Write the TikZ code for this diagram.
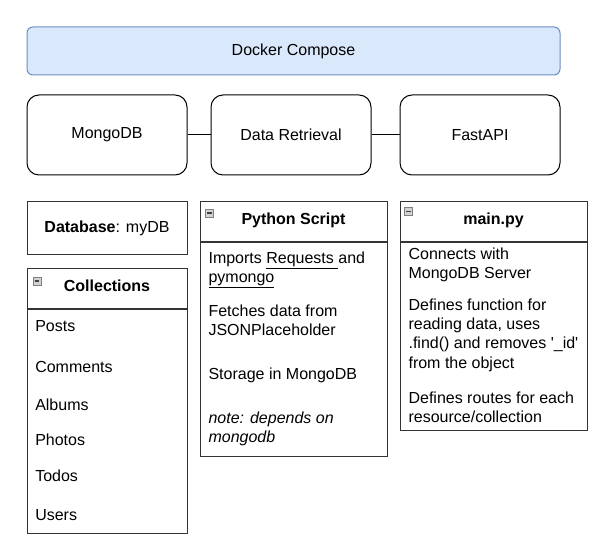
\documentclass[tikz,border=0pt]{standalone}
\usepackage{fontspec}
\setmainfont{Liberation Sans}
\usepackage{xcolor}
\usetikzlibrary{positioning}
\usetikzlibrary{calc}
\definecolor{composefill}{HTML}{DAE8FC}
\definecolor{composeline}{HTML}{6C8EBF}

\begin{document}
\begin{tikzpicture}[x=0.75pt,y=-0.75pt,
                every node/.style={font=\fontsize{12}{14.4}\selectfont},
                compose/.style={draw=composeline,fill=composefill,rounded corners=4.5pt,line width=0.75pt,
                                minimum width=399.75pt,minimum height=36pt},
                service/.style={draw,rounded corners=9pt,line width=0.75pt,minimum width=120pt,minimum height=60pt},
                panel/.style={draw=black!80,line width=0.75pt,inner sep=0pt},
                title/.style={anchor=base,inner sep=0pt,font=\fontsize{12}{14.4}\selectfont\bfseries},
                entry/.style={anchor=base west,inner sep=0pt},
                icon/.style={draw=gray,fill=gray!35,minimum size=6pt,inner sep=0pt,line width=0.4pt,
                             path picture={\draw[line width=1pt,black!75]
                               ([xshift=1.2pt]path picture bounding box.west) --
                               ([xshift=-1.2pt]path picture bounding box.east);}}]
             \useasboundingbox (0,0) rectangle (613,555);

             % containers
             \node[compose] (compose) at (293.5,51) {Docker Compose};
             \node[service] (mongo) at (107,135) {MongoDB};
             \node[service] (retrieval) at (291,135) {Data Retrieval};
             \node[service] (fastapi) at (480,135) {FastAPI};
             \draw[line width=0.75pt] (mongo) -- (retrieval);
             \draw[line width=0.75pt] (retrieval) -- (fastapi);

             % database
             \node[panel,minimum width=120pt,minimum height=39.75pt] (database) at (107,228.5) {\textbf{Database}: myDB};

             % collections
             \node[panel,minimum width=120pt,minimum height=30pt] (colhead) at (107,289) {};
             \node[panel,minimum width=120pt,minimum height=167.25pt,anchor=north] (colbody) at (colhead.south) {};
             \node[icon] (colicon) at (37,281) {};
             \node[title] (coltitle) at (107,291.7) {Collections};
             \foreach \name/\y in {Posts/332,Comments/372.5,Albums/410,Photos/445,Todos/481.5,Users/520}
                \node[entry] (\name) at (35,\y) {\name};

             % python script
             \node[panel,minimum width=140.25pt,minimum height=30pt] (scripthead) at (293.5,222) {};
             \node[panel,minimum width=140.25pt,minimum height=159.75pt,anchor=north] (scriptbody) at (scripthead.south) {};
             \node[icon] (scripticon) at (209.5,213) {};
             \node[title] (scripttitle) at (293.5,224.5) {Python Script};
             \node[entry] (imports) at (208.3,263.3) {Imports \underline{Requests\ }and};
             \node[entry] (pymongo) at (208.3,282.5) {\underline{pymongo}};
             \node[entry] (fetches) at (208.3,316.5) {Fetches data from};
             \node[entry] (placeholder) at (208.3,335.7) {JSONPlaceholder};
             \node[entry] (storage) at (208.3,379.2) {Storage in MongoDB};
             \node[entry] (note) at (208.3,423) {\itshape note: depends on};
             \node[entry] (depends) at (208.3,442.2) {\itshape mongodb};

             % main.py
             \node[panel,minimum width=140.25pt,minimum height=30pt] (mainhead) at (493.5,222) {};
             \node[panel,minimum width=140.25pt,minimum height=140.25pt,anchor=north] (mainbody) at (mainhead.south) {};
             \node[icon] (mainicon) at (408.5,211.5) {};
             \node[title] (maintitle) at (493.5,224.5) {main.py};
             \node[entry] (connects) at (408.3,259.8) {Connects with};
             \node[entry] (server) at (408.3,279) {MongoDB Server};
             \node[entry] (reading) at (408.3,310.5) {Defines function for};
             \node[entry] (uses) at (408.3,329.7) {reading data, uses};
             \node[entry] (find) at (408.3,348.9) {.find() and removes \textquotesingle\_id\textquotesingle};
             \node[entry] (object) at (408.3,368.1) {from the object};
             \node[entry] (routes) at (408.3,403.2) {Defines routes for each};
             \node[entry] (resource) at (408.3,422.4) {resource/collection};
\end{tikzpicture}
\end{document}
